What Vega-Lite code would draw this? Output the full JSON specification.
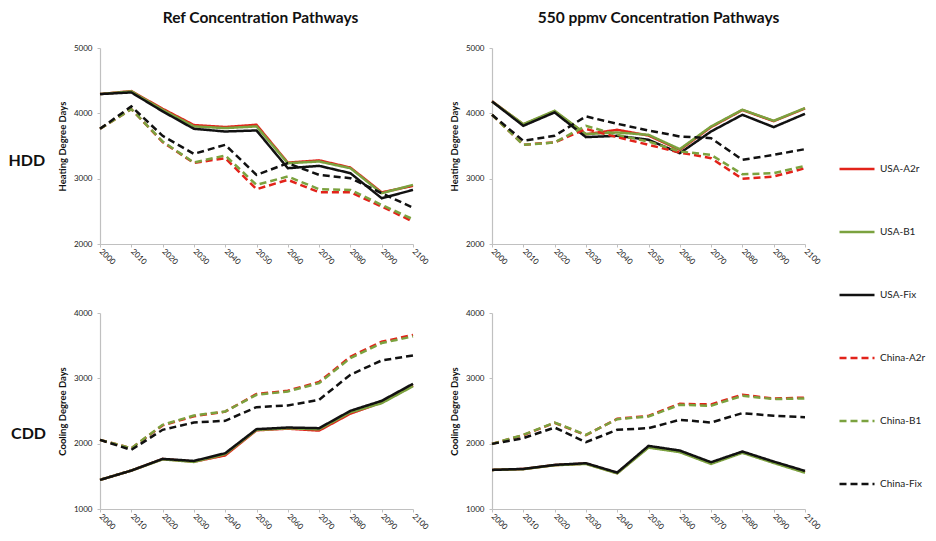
{
  "$schema": "https://vega.github.io/schema/vega-lite/v6.json",
  "background": "white",
  "padding": {"left": 8, "top": 10, "right": 5, "bottom": 5},
  "data": {
    "values": [
      {"panel": "HDD_Ref", "year": 2000, "USA-A2r": 4295, "USA-B1": 4295, "USA-Fix": 4295, "China-A2r": 3763, "China-B1": 3763, "China-Fix": 3763},
      {"panel": "HDD_Ref", "year": 2010, "USA-A2r": 4340, "USA-B1": 4336, "USA-Fix": 4320, "China-A2r": 4065, "China-B1": 4065, "China-Fix": 4106},
      {"panel": "HDD_Ref", "year": 2020, "USA-A2r": 4070, "USA-B1": 4055, "USA-Fix": 4030, "China-A2r": 3560, "China-B1": 3569, "China-Fix": 3656},
      {"panel": "HDD_Ref", "year": 2030, "USA-A2r": 3820, "USA-B1": 3800, "USA-Fix": 3763, "China-A2r": 3240, "China-B1": 3247, "China-Fix": 3380},
      {"panel": "HDD_Ref", "year": 2040, "USA-A2r": 3790, "USA-B1": 3774, "USA-Fix": 3722, "China-A2r": 3314, "China-B1": 3355, "China-Fix": 3518},
      {"panel": "HDD_Ref", "year": 2050, "USA-A2r": 3825, "USA-B1": 3800, "USA-Fix": 3738, "China-A2r": 2839, "China-B1": 2905, "China-Fix": 3058},
      {"panel": "HDD_Ref", "year": 2060, "USA-A2r": 3245, "USA-B1": 3237, "USA-Fix": 3160, "China-A2r": 2982, "China-B1": 3033, "China-Fix": 3237},
      {"panel": "HDD_Ref", "year": 2070, "USA-A2r": 3280, "USA-B1": 3263, "USA-Fix": 3196, "China-A2r": 2792, "China-B1": 2839, "China-Fix": 3058},
      {"panel": "HDD_Ref", "year": 2080, "USA-A2r": 3170, "USA-B1": 3160, "USA-Fix": 3084, "China-A2r": 2792, "China-B1": 2828, "China-Fix": 3007},
      {"panel": "HDD_Ref", "year": 2090, "USA-A2r": 2790, "USA-B1": 2777, "USA-Fix": 2700, "China-A2r": 2573, "China-B1": 2598, "China-Fix": 2777},
      {"panel": "HDD_Ref", "year": 2100, "USA-A2r": 2890, "USA-B1": 2905, "USA-Fix": 2828, "China-A2r": 2343, "China-B1": 2379, "China-Fix": 2557},

      {"panel": "HDD_550", "year": 2000, "USA-A2r": 4185, "USA-B1": 4182, "USA-Fix": 4182, "China-A2r": 3978, "China-B1": 3978, "China-Fix": 3978},
      {"panel": "HDD_550", "year": 2010, "USA-A2r": 3830, "USA-B1": 3835, "USA-Fix": 3809, "China-A2r": 3520, "China-B1": 3518, "China-Fix": 3579},
      {"panel": "HDD_550", "year": 2020, "USA-A2r": 4030, "USA-B1": 4039, "USA-Fix": 4014, "China-A2r": 3555, "China-B1": 3554, "China-Fix": 3656},
      {"panel": "HDD_550", "year": 2030, "USA-A2r": 3680, "USA-B1": 3682, "USA-Fix": 3636, "China-A2r": 3760, "China-B1": 3809, "China-Fix": 3953},
      {"panel": "HDD_550", "year": 2040, "USA-A2r": 3748, "USA-B1": 3707, "USA-Fix": 3656, "China-A2r": 3636, "China-B1": 3671, "China-Fix": 3840},
      {"panel": "HDD_550", "year": 2050, "USA-A2r": 3660, "USA-B1": 3671, "USA-Fix": 3595, "China-A2r": 3518, "China-B1": 3569, "China-Fix": 3738},
      {"panel": "HDD_550", "year": 2060, "USA-A2r": 3440, "USA-B1": 3452, "USA-Fix": 3390, "China-A2r": 3400, "China-B1": 3416, "China-Fix": 3646},
      {"panel": "HDD_550", "year": 2070, "USA-A2r": 3790, "USA-B1": 3799, "USA-Fix": 3723, "China-A2r": 3314, "China-B1": 3365, "China-Fix": 3620},
      {"panel": "HDD_550", "year": 2080, "USA-A2r": 4050, "USA-B1": 4055, "USA-Fix": 3978, "China-A2r": 2997, "China-B1": 3068, "China-Fix": 3288},
      {"panel": "HDD_550", "year": 2090, "USA-A2r": 3880, "USA-B1": 3886, "USA-Fix": 3789, "China-A2r": 3033, "China-B1": 3084, "China-Fix": 3364},
      {"panel": "HDD_550", "year": 2100, "USA-A2r": 4075, "USA-B1": 4080, "USA-Fix": 3993, "China-A2r": 3160, "China-B1": 3196, "China-Fix": 3452},

      {"panel": "CDD_Ref", "year": 2000, "USA-A2r": 1445, "USA-B1": 1445, "USA-Fix": 1445, "China-A2r": 2058, "China-B1": 2058, "China-Fix": 2058},
      {"panel": "CDD_Ref", "year": 2010, "USA-A2r": 1588, "USA-B1": 1588, "USA-Fix": 1588, "China-A2r": 1930, "China-B1": 1930, "China-Fix": 1905},
      {"panel": "CDD_Ref", "year": 2020, "USA-A2r": 1765, "USA-B1": 1760, "USA-Fix": 1767, "China-A2r": 2280, "China-B1": 2288, "China-Fix": 2212},
      {"panel": "CDD_Ref", "year": 2030, "USA-A2r": 1725, "USA-B1": 1720, "USA-Fix": 1736, "China-A2r": 2420, "China-B1": 2431, "China-Fix": 2324},
      {"panel": "CDD_Ref", "year": 2040, "USA-A2r": 1820, "USA-B1": 1840, "USA-Fix": 1854, "China-A2r": 2490, "China-B1": 2493, "China-Fix": 2350},
      {"panel": "CDD_Ref", "year": 2050, "USA-A2r": 2205, "USA-B1": 2210, "USA-Fix": 2222, "China-A2r": 2760, "China-B1": 2748, "China-Fix": 2559},
      {"panel": "CDD_Ref", "year": 2060, "USA-A2r": 2230, "USA-B1": 2235, "USA-Fix": 2247, "China-A2r": 2810, "China-B1": 2799, "China-Fix": 2585},
      {"panel": "CDD_Ref", "year": 2070, "USA-A2r": 2200, "USA-B1": 2220, "USA-Fix": 2237, "China-A2r": 2945, "China-B1": 2927, "China-Fix": 2671},
      {"panel": "CDD_Ref", "year": 2080, "USA-A2r": 2460, "USA-B1": 2480, "USA-Fix": 2503, "China-A2r": 3330, "China-B1": 3310, "China-Fix": 3055},
      {"panel": "CDD_Ref", "year": 2090, "USA-A2r": 2630, "USA-B1": 2620, "USA-Fix": 2656, "China-A2r": 3560, "China-B1": 3540, "China-Fix": 3274},
      {"panel": "CDD_Ref", "year": 2100, "USA-A2r": 2890, "USA-B1": 2880, "USA-Fix": 2917, "China-A2r": 3665, "China-B1": 3642, "China-Fix": 3351},

      {"panel": "CDD_550", "year": 2000, "USA-A2r": 1598, "USA-B1": 1598, "USA-Fix": 1598, "China-A2r": 1997, "China-B1": 1997, "China-Fix": 1997},
      {"panel": "CDD_550", "year": 2010, "USA-A2r": 1612, "USA-B1": 1610, "USA-Fix": 1614, "China-A2r": 2130, "China-B1": 2135, "China-Fix": 2084},
      {"panel": "CDD_550", "year": 2020, "USA-A2r": 1672, "USA-B1": 1670, "USA-Fix": 1675, "China-A2r": 2320, "China-B1": 2324, "China-Fix": 2247},
      {"panel": "CDD_550", "year": 2030, "USA-A2r": 1695, "USA-B1": 1690, "USA-Fix": 1701, "China-A2r": 2130, "China-B1": 2135, "China-Fix": 2023},
      {"panel": "CDD_550", "year": 2040, "USA-A2r": 1550, "USA-B1": 1545, "USA-Fix": 1558, "China-A2r": 2380, "China-B1": 2375, "China-Fix": 2212},
      {"panel": "CDD_550", "year": 2050, "USA-A2r": 1950, "USA-B1": 1940, "USA-Fix": 1966, "China-A2r": 2425, "China-B1": 2416, "China-Fix": 2237},
      {"panel": "CDD_550", "year": 2060, "USA-A2r": 1880, "USA-B1": 1870, "USA-Fix": 1895, "China-A2r": 2610, "China-B1": 2595, "China-Fix": 2365},
      {"panel": "CDD_550", "year": 2070, "USA-A2r": 1700, "USA-B1": 1690, "USA-Fix": 1716, "China-A2r": 2600, "China-B1": 2580, "China-Fix": 2324},
      {"panel": "CDD_550", "year": 2080, "USA-A2r": 1870, "USA-B1": 1860, "USA-Fix": 1880, "China-A2r": 2750, "China-B1": 2733, "China-Fix": 2467},
      {"panel": "CDD_550", "year": 2090, "USA-A2r": 1715, "USA-B1": 1705, "USA-Fix": 1726, "China-A2r": 2690, "China-B1": 2682, "China-Fix": 2426},
      {"panel": "CDD_550", "year": 2100, "USA-A2r": 1565, "USA-B1": 1555, "USA-Fix": 1583, "China-A2r": 2705, "China-B1": 2692, "China-Fix": 2406}
    ]
  },
  "spacing": 43,
  "vconcat": [
    {
      "title": {"text": "HDD", "orient": "left", "angle": 0, "fontSize": 16, "fontWeight": "bold", "anchor": "middle", "dy": 15, "offset": -6},
      "spacing": 20,
      "hconcat": [
        {
          "title": {"text": "Ref  Concentration Pathways", "fontSize": 15.5, "fontWeight": "bold", "offset": 18, "dx": 4},
          "width": 313, "height": 196,
          "transform": [
            {"filter": "datum.panel === 'HDD_Ref'"},
            {"fold": ["USA-A2r", "USA-B1", "USA-Fix", "China-A2r", "China-B1", "China-Fix"], "as": ["series", "value"]}
          ],
          "mark": {"type": "line", "strokeWidth": 2.5},
          "encoding": {
            "x": {"field": "year", "type": "quantitative", "scale": {"domain": [2000, 2100], "nice": false}, "axis": {"values": [2000, 2010, 2020, 2030, 2040, 2050, 2060, 2070, 2080, 2090, 2100], "title": null}},
            "y": {"field": "value", "type": "quantitative", "scale": {"domain": [2000, 5000], "nice": false, "zero": false}, "axis": {"values": [2000, 3000, 4000, 5000], "title": "Heating Degree Days"}},
            "color": {"field": "series", "type": "nominal", "title": null, "sort": null, "scale": {"domain": ["USA-A2r", "USA-B1", "USA-Fix", "China-A2r", "China-B1", "China-Fix"], "range": ["#e2231a", "#7ba23f", "#111111", "#e2231a", "#7ba23f", "#111111"]}},
            "strokeDash": {"field": "series", "type": "nominal", "title": null, "sort": null, "scale": {"domain": ["USA-A2r", "USA-B1", "USA-Fix", "China-A2r", "China-B1", "China-Fix"], "range": [[1, 0], [1, 0], [1, 0], [7, 4], [7, 4], [7, 4]]}}
          }
        },
        {
          "title": {"text": "550 ppmv  Concentration Pathways", "fontSize": 15.5, "fontWeight": "bold", "offset": 18, "dx": 10},
          "width": 313, "height": 196,
          "transform": [
            {"filter": "datum.panel === 'HDD_550'"},
            {"fold": ["USA-A2r", "USA-B1", "USA-Fix", "China-A2r", "China-B1", "China-Fix"], "as": ["series", "value"]}
          ],
          "mark": {"type": "line", "strokeWidth": 2.5},
          "encoding": {
            "x": {"field": "year", "type": "quantitative", "scale": {"domain": [2000, 2100], "nice": false}, "axis": {"values": [2000, 2010, 2020, 2030, 2040, 2050, 2060, 2070, 2080, 2090, 2100], "title": null}},
            "y": {"field": "value", "type": "quantitative", "scale": {"domain": [2000, 5000], "nice": false, "zero": false}, "axis": {"values": [2000, 3000, 4000, 5000], "title": "Heating Degree Days"}},
            "color": {"field": "series", "type": "nominal", "title": null, "sort": null, "scale": {"domain": ["USA-A2r", "USA-B1", "USA-Fix", "China-A2r", "China-B1", "China-Fix"], "range": ["#e2231a", "#7ba23f", "#111111", "#e2231a", "#7ba23f", "#111111"]}},
            "strokeDash": {"field": "series", "type": "nominal", "title": null, "sort": null, "scale": {"domain": ["USA-A2r", "USA-B1", "USA-Fix", "China-A2r", "China-B1", "China-Fix"], "range": [[1, 0], [1, 0], [1, 0], [7, 4], [7, 4], [7, 4]]}}
          }
        }
      ]
    },
    {
      "title": {"text": "CDD", "orient": "left", "angle": 0, "fontSize": 16, "fontWeight": "bold", "anchor": "middle", "dy": 6, "offset": -6},
      "spacing": 20,
      "hconcat": [
        {
          "width": 313, "height": 196,
          "transform": [
            {"filter": "datum.panel === 'CDD_Ref'"},
            {"fold": ["USA-A2r", "USA-B1", "USA-Fix", "China-A2r", "China-B1", "China-Fix"], "as": ["series", "value"]}
          ],
          "mark": {"type": "line", "strokeWidth": 2.5},
          "encoding": {
            "x": {"field": "year", "type": "quantitative", "scale": {"domain": [2000, 2100], "nice": false}, "axis": {"values": [2000, 2010, 2020, 2030, 2040, 2050, 2060, 2070, 2080, 2090, 2100], "title": null}},
            "y": {"field": "value", "type": "quantitative", "scale": {"domain": [1000, 4000], "nice": false, "zero": false}, "axis": {"values": [1000, 2000, 3000, 4000], "title": "Cooling Degree Days"}},
            "color": {"field": "series", "type": "nominal", "title": null, "sort": null, "scale": {"domain": ["USA-A2r", "USA-B1", "USA-Fix", "China-A2r", "China-B1", "China-Fix"], "range": ["#e2231a", "#7ba23f", "#111111", "#e2231a", "#7ba23f", "#111111"]}},
            "strokeDash": {"field": "series", "type": "nominal", "title": null, "sort": null, "scale": {"domain": ["USA-A2r", "USA-B1", "USA-Fix", "China-A2r", "China-B1", "China-Fix"], "range": [[1, 0], [1, 0], [1, 0], [7, 4], [7, 4], [7, 4]]}}
          }
        },
        {
          "width": 313, "height": 196,
          "transform": [
            {"filter": "datum.panel === 'CDD_550'"},
            {"fold": ["USA-A2r", "USA-B1", "USA-Fix", "China-A2r", "China-B1", "China-Fix"], "as": ["series", "value"]}
          ],
          "mark": {"type": "line", "strokeWidth": 2.5},
          "encoding": {
            "x": {"field": "year", "type": "quantitative", "scale": {"domain": [2000, 2100], "nice": false}, "axis": {"values": [2000, 2010, 2020, 2030, 2040, 2050, 2060, 2070, 2080, 2090, 2100], "title": null}},
            "y": {"field": "value", "type": "quantitative", "scale": {"domain": [1000, 4000], "nice": false, "zero": false}, "axis": {"values": [1000, 2000, 3000, 4000], "title": "Cooling Degree Days"}},
            "color": {"field": "series", "type": "nominal", "title": null, "sort": null, "scale": {"domain": ["USA-A2r", "USA-B1", "USA-Fix", "China-A2r", "China-B1", "China-Fix"], "range": ["#e2231a", "#7ba23f", "#111111", "#e2231a", "#7ba23f", "#111111"]}},
            "strokeDash": {"field": "series", "type": "nominal", "title": null, "sort": null, "scale": {"domain": ["USA-A2r", "USA-B1", "USA-Fix", "China-A2r", "China-B1", "China-Fix"], "range": [[1, 0], [1, 0], [1, 0], [7, 4], [7, 4], [7, 4]]}}
          }
        }
      ]
    }
  ],
  "resolve": {"scale": {"color": "shared", "strokeDash": "shared"}},
  "config": {
    "font": "Lato",
    "view": {"stroke": null},
    "title": {"color": "#111", "font": "Lato"},
    "axis": {
      "grid": false,
      "domainColor": "#c0c0c0",
      "domainWidth": 1.2,
      "tickColor": "#c0c0c0",
      "tickSize": 3,
      "labelColor": "#222",
      "labelFont": "Lato",
      "labelFontSize": 8,
      "titleFont": "Lato",
      "titleFontSize": 9.5,
      "titleFontWeight": "bold",
      "titleColor": "#111"
    },
    "axisX": {"format": "d", "labelAngle": 45, "labelAlign": "left", "labelBaseline": "middle", "labelPadding": 3, "labelFlush": false, "labelOverlap": false},
    "axisY": {"format": "d", "labelPadding": 5, "titlePadding": 6, "labelFlush": false},
    "legend": {
      "orient": "none",
      "legendX": 738,
      "legendY": 102,
      "symbolType": "stroke",
      "symbolSize": 1225,
      "symbolStrokeWidth": 2.5,
      "rowPadding": 39,
      "labelFont": "Lato",
      "labelFontSize": 10,
      "labelColor": "#222",
      "labelOffset": 4
    },
    "line": {"strokeCap": "butt"}
  },
  "encoding": {}
}
